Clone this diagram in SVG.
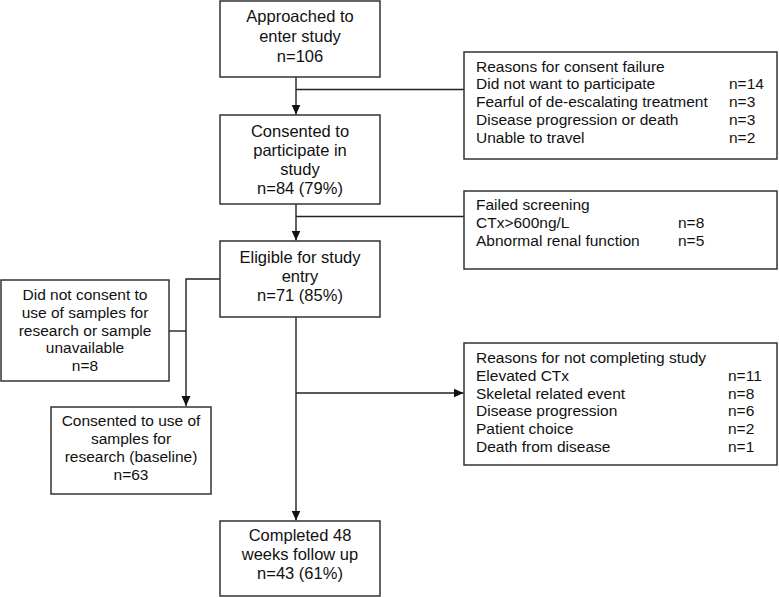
<svg xmlns="http://www.w3.org/2000/svg" width="779" height="597" viewBox="0 0 779 597">
<style>
.box{fill:#fff;stroke:#333;stroke-width:1.5}
.t{font-family:"Liberation Sans",Arial,sans-serif;fill:#111}
.m{font-size:16.5px;text-anchor:middle}
.s{font-size:15.5px;text-anchor:middle}
.r{font-size:15.5px}
.ln{fill:none;stroke:#222;stroke-width:1.4}
</style>
<defs>
<marker id="ah" markerUnits="userSpaceOnUse" markerWidth="10" markerHeight="10" viewBox="0 0 10 10" refX="10" refY="5" orient="auto">
<path d="M0,0.5 L10,5 L0,9.5 Z" fill="#111"/>
</marker>
</defs>
<rect width="779" height="597" fill="#fff"/>
<g id="connectors">
<line class="ln" x1="296" y1="77" x2="296" y2="114.5" marker-end="url(#ah)"/>
<line class="ln" x1="296" y1="89.5" x2="464" y2="89.5"/>
<line class="ln" x1="296" y1="204" x2="296" y2="240.5" marker-end="url(#ah)"/>
<line class="ln" x1="296" y1="216.5" x2="464" y2="216.5"/>
<polyline class="ln" points="220,279 186,279 186,406" marker-end="url(#ah)"/>
<line class="ln" x1="169" y1="331" x2="186" y2="331"/>
<line class="ln" x1="296" y1="317" x2="296" y2="520.5" marker-end="url(#ah)"/>
<line class="ln" x1="296" y1="393" x2="463.5" y2="393" marker-end="url(#ah)"/>
</g>
<g id="approached">
<rect class="box" x="220" y="1" width="160" height="76"/>
<text class="t m" x="300" y="22">Approached to</text>
<text class="t m" x="300" y="42">enter study</text>
<text class="t m" x="300" y="62">n=106</text>
</g>
<g id="consented">
<rect class="box" x="220" y="115" width="160" height="89"/>
<text class="t m" x="300" y="137">Consented to</text>
<text class="t m" x="300" y="156">participate in</text>
<text class="t m" x="300" y="175">study</text>
<text class="t m" x="300" y="194">n=84 (79%)</text>
</g>
<g id="eligible">
<rect class="box" x="220" y="241" width="160" height="76"/>
<text class="t m" x="300" y="263">Eligible for study</text>
<text class="t m" x="300" y="282">entry</text>
<text class="t m" x="300" y="301">n=71 (85%)</text>
</g>
<g id="completed">
<rect class="box" x="220" y="521" width="160" height="75"/>
<text class="t m" x="300" y="541">Completed 48</text>
<text class="t m" x="300" y="560">weeks follow up</text>
<text class="t m" x="300" y="579">n=43 (61%)</text>
</g>
<g id="did-not-consent">
<rect class="box" x="1" y="280" width="168" height="101"/>
<text class="t s" x="85" y="300">Did not consent to</text>
<text class="t s" x="85" y="318">use of samples for</text>
<text class="t s" x="85" y="335.5">research or sample</text>
<text class="t s" x="85" y="353">unavailable</text>
<text class="t s" x="85" y="371">n=8</text>
</g>
<g id="consented-samples">
<rect class="box" x="51" y="407" width="160" height="87"/>
<text class="t s" x="131" y="426">Consented to use of</text>
<text class="t s" x="131" y="444">samples for</text>
<text class="t s" x="131" y="462">research (baseline)</text>
<text class="t s" x="131" y="480">n=63</text>
</g>
<g id="consent-failure">
<rect class="box" x="464" y="52" width="313" height="107"/>
<text class="t r" x="476" y="72">Reasons for consent failure</text>
<text class="t r" x="476" y="89">Did not want to participate</text>
<text class="t r" x="729" y="89">n=14</text>
<text class="t r" x="476" y="107">Fearful of de-escalating treatment</text>
<text class="t r" x="729" y="107">n=3</text>
<text class="t r" x="476" y="125">Disease progression or death</text>
<text class="t r" x="729" y="125">n=3</text>
<text class="t r" x="476" y="143">Unable to travel</text>
<text class="t r" x="729" y="143">n=2</text>
</g>
<g id="failed-screening">
<rect class="box" x="464" y="191" width="313" height="78"/>
<text class="t r" x="476" y="210">Failed screening</text>
<text class="t r" x="476" y="228">CTx&gt;600ng/L</text>
<text class="t r" x="678" y="228">n=8</text>
<text class="t r" x="476" y="246">Abnormal renal function</text>
<text class="t r" x="678" y="246">n=5</text>
</g>
<g id="not-completing">
<rect class="box" x="464" y="343" width="313" height="122"/>
<text class="t r" x="476" y="363">Reasons for not completing study</text>
<text class="t r" x="476" y="381">Elevated CTx</text>
<text class="t r" x="728" y="381">n=11</text>
<text class="t r" x="476" y="398.5">Skeletal related event</text>
<text class="t r" x="728" y="398.5">n=8</text>
<text class="t r" x="476" y="416">Disease progression</text>
<text class="t r" x="728" y="416">n=6</text>
<text class="t r" x="476" y="434">Patient choice</text>
<text class="t r" x="728" y="434">n=2</text>
<text class="t r" x="476" y="451.5">Death from disease</text>
<text class="t r" x="728" y="451.5">n=1</text>
</g>
</svg>
